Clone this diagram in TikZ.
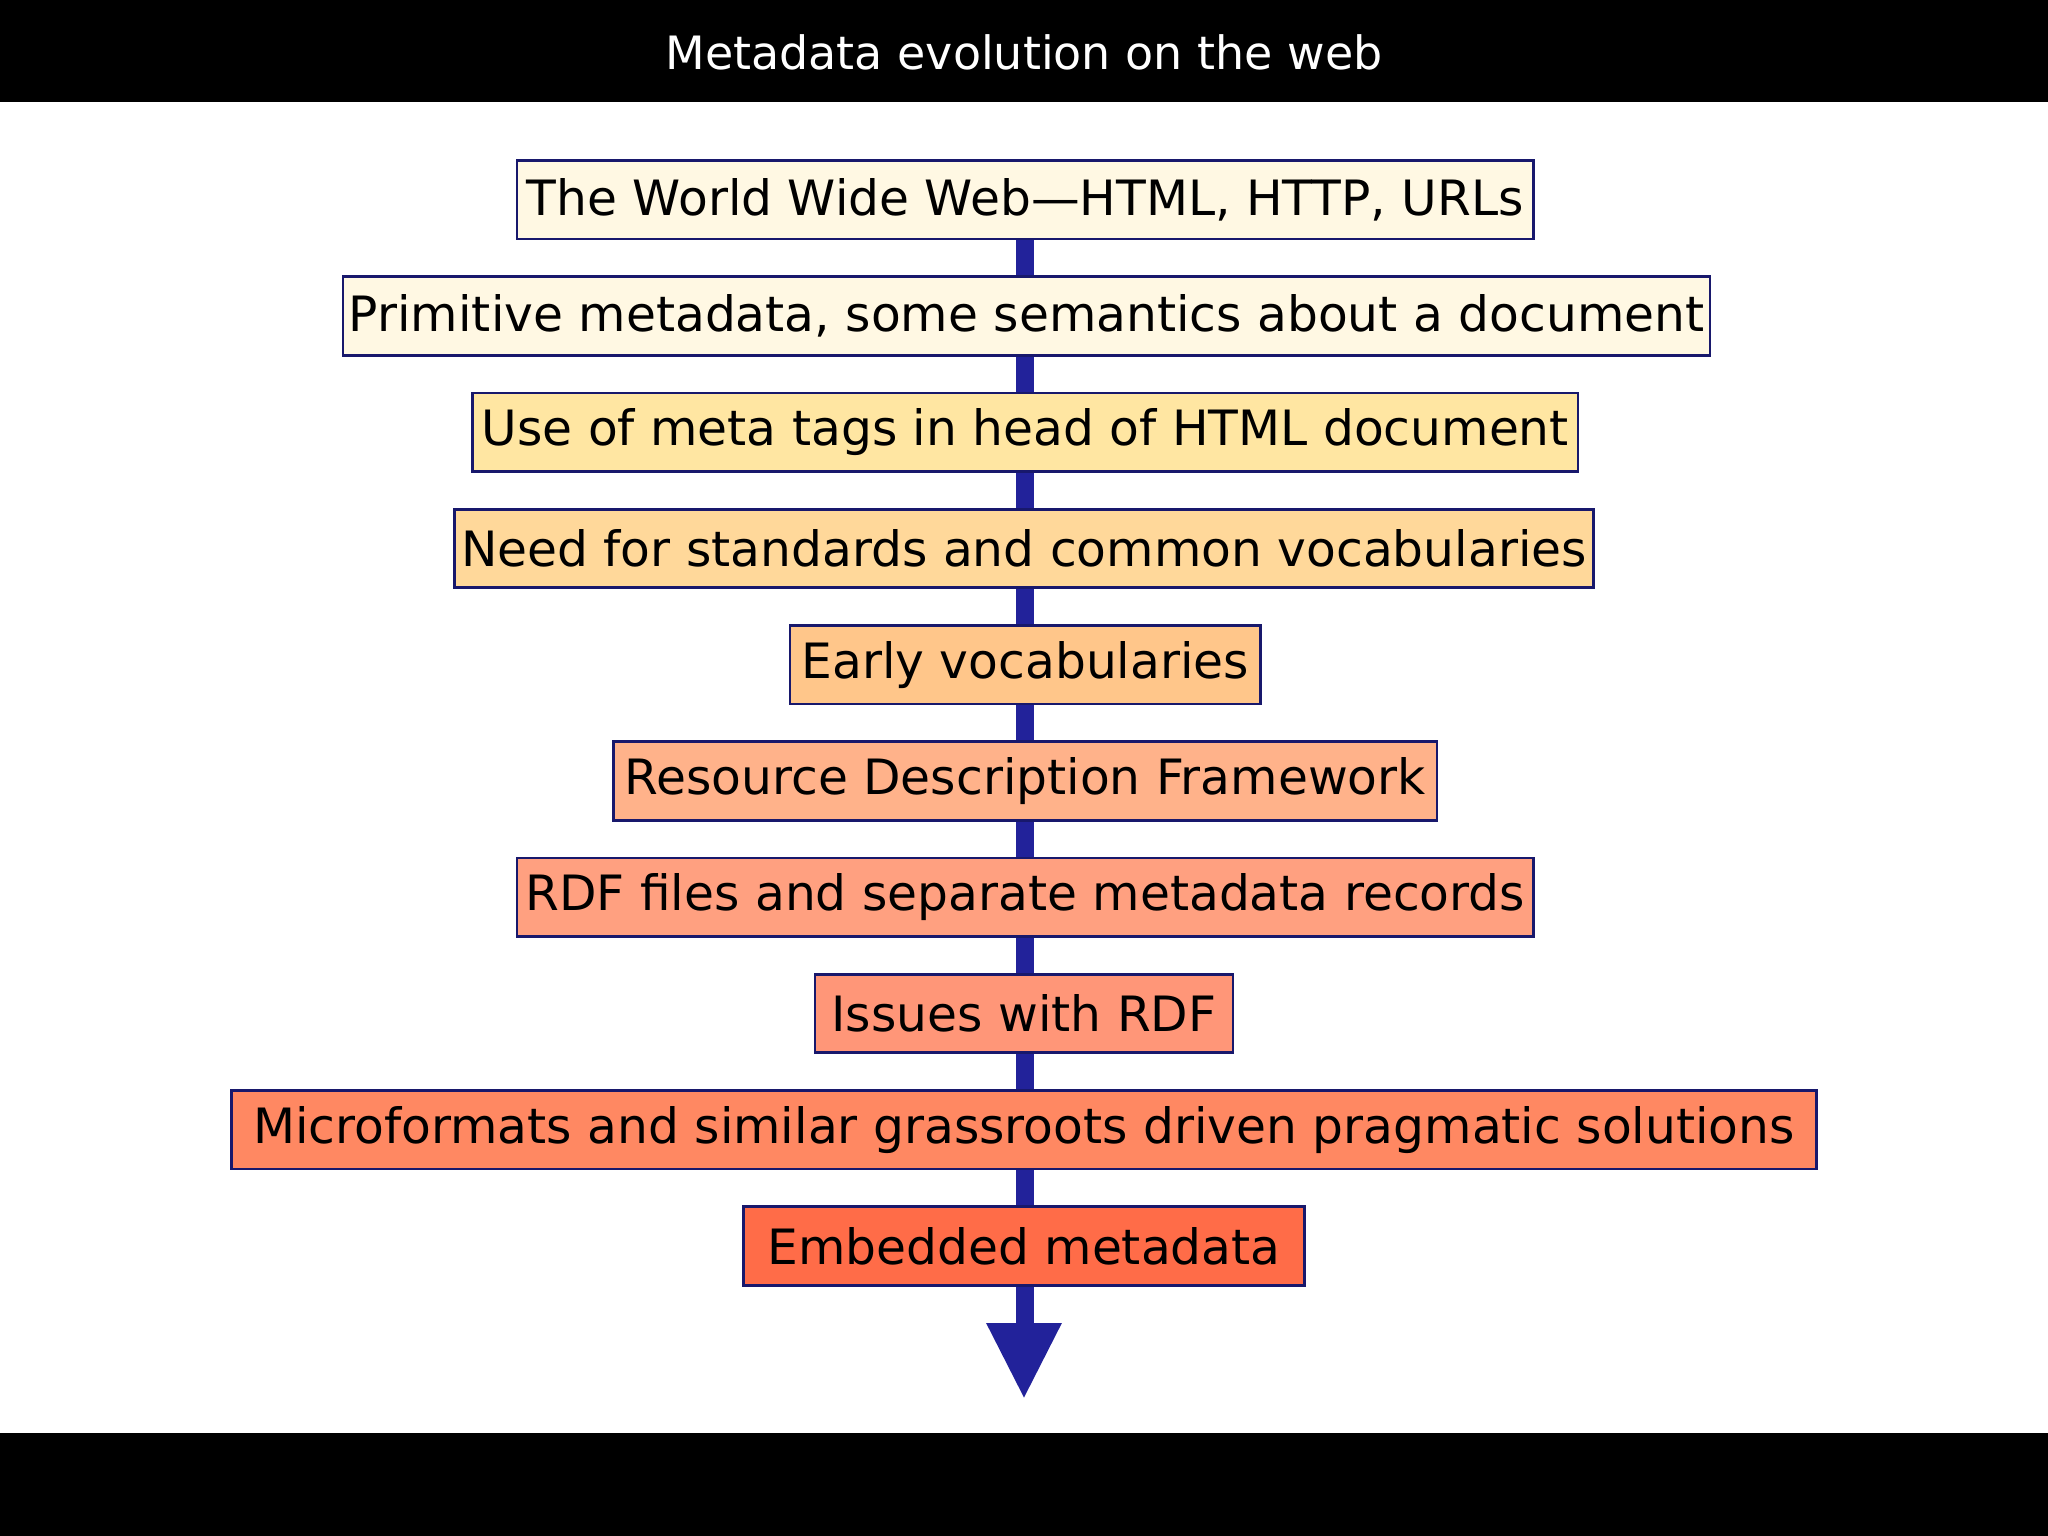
\documentclass[tikz,border=0pt]{standalone}
\usepackage{fontspec}
\setmainfont{DejaVu Sans}
\usetikzlibrary{backgrounds}
\definecolor{arr}{HTML}{22229A}
\definecolor{c1}{HTML}{FFF8E3}
\definecolor{c3}{HTML}{FFE6A2}
\definecolor{c4}{HTML}{FFD89A}
\definecolor{c5}{HTML}{FFC68A}
\definecolor{c6}{HTML}{FFB28A}
\definecolor{c7}{HTML}{FFA080}
\definecolor{c8}{HTML}{FF9678}
\definecolor{c9}{HTML}{FF8862}
\definecolor{c10}{HTML}{FF6C48}
\tikzset{stagebox/.style={draw=arr!70!black, line width=0.6pt, minimum height=0.6cm, inner sep=0pt, font=\fontsize{10.6pt}{12pt}\selectfont, text=black}}
\begin{document}
\begin{tikzpicture}[x=0.01cm,y=-0.01cm]
\useasboundingbox (0,0) rectangle (1568,1176);
\node[stagebox, fill=c1, minimum width=7.78cm] (b1) at (785,153) {The World Wide Web—HTML, HTTP, URLs};
\node[stagebox, fill=c1, minimum width=10.46cm] (b2) at (786,242) {Primitive metadata, some semantics about a document};
\node[stagebox, fill=c3, minimum width=8.46cm] (b3) at (785,331) {Use of meta tags in head of HTML document};
\node[stagebox, fill=c4, minimum width=8.72cm] (b4) at (784,420) {Need for standards and common vocabularies};
\node[stagebox, fill=c5, minimum width=3.60cm] (b5) at (785,509) {Early vocabularies};
\node[stagebox, fill=c6, minimum width=6.30cm] (b6) at (785,598) {Resource Description Framework};
\node[stagebox, fill=c7, minimum width=7.78cm] (b7) at (785,687) {RDF files and separate metadata records};
\node[stagebox, fill=c8, minimum width=3.20cm] (b8) at (784,776) {Issues with RDF};
\node[stagebox, fill=c9, minimum width=12.13cm] (b9) at (784,865) {Microformats and similar grassroots driven pragmatic solutions};
\node[stagebox, fill=c10, minimum width=4.29cm] (b10) at (784,954) {Embedded metadata};
\coordinate (hb) at (785,1014);
\coordinate (tip) at (784,1070);
\node[text=white, font=\fontsize{10pt}{12pt}\selectfont] (title) at (784,40) {Metadata evolution on the web};
\begin{scope}[on background layer]
\fill[white] (0,0) rectangle (1568,1176);
\fill[black] (0,0) rectangle (1568,78);
\fill[black] (0,1097) rectangle (1568,1176);
\draw[arr, line width=0.14cm] (b1.south) -- (hb);
\fill[arr] (755,1013) -- (813,1013) -- (tip) -- cycle;
\end{scope}
\end{tikzpicture}
\end{document}
